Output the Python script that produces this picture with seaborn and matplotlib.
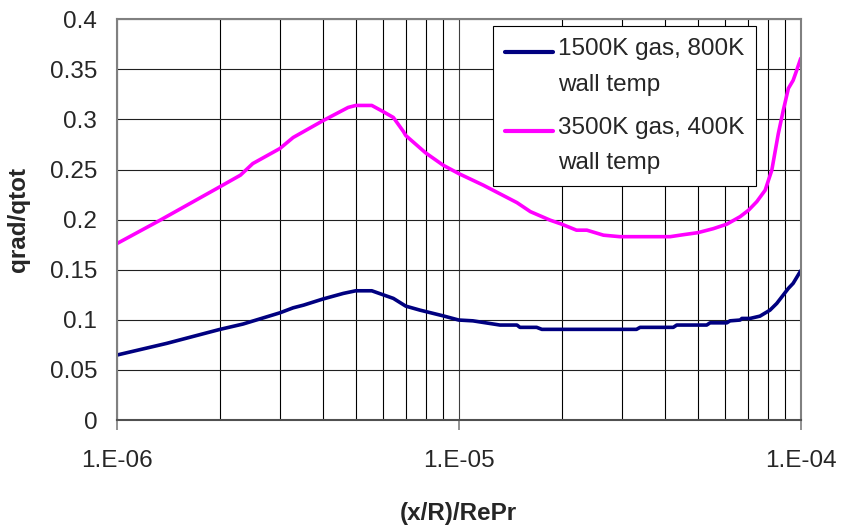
import numpy as np
import pandas as pd
import matplotlib
matplotlib.use("Agg")
import matplotlib.pyplot as plt
from matplotlib.ticker import LogLocator, FixedLocator, NullFormatter
from matplotlib.legend_handler import HandlerLine2D
import seaborn as sns

# ---- data ----
x_hot = [1.0e-6, 1.34e-6, 2.0e-6, 2.3e-6, 2.5e-6, 3.0e-6, 3.28e-6, 4.0e-6, 4.75e-6, 5.0e-6,
         5.57e-6, 6.0e-6, 6.44e-6, 6.89e-6, 7.0e-6, 8.0e-6, 9.0e-6, 1.0e-5, 1.18e-5, 1.48e-5,
         1.62e-5, 1.85e-5, 2.0e-5, 2.21e-5, 2.37e-5, 2.65e-5, 2.96e-5, 4.15e-5, 4.54e-5, 5.0e-5,
         5.55e-5, 6.08e-5, 6.65e-5, 7.04e-5, 7.44e-5, 7.87e-5, 8.23e-5, 8.6e-5, 8.89e-5, 9.2e-5,
         9.5e-5, 9.73e-5, 1.0e-4]
y_hot = [0.176, 0.1995, 0.2327, 0.2444, 0.256, 0.271, 0.282, 0.2986, 0.312, 0.314,
         0.314, 0.308, 0.302, 0.288, 0.284, 0.2667, 0.2544, 0.246, 0.2344, 0.217,
         0.208, 0.1995, 0.1955, 0.1895, 0.1895, 0.1845, 0.183, 0.183, 0.185, 0.187,
         0.191, 0.1955, 0.203, 0.2095, 0.218, 0.2294, 0.2494, 0.286, 0.309, 0.331,
         0.339, 0.349, 0.361]

x_cool = [1.0e-6, 1.4e-6, 2.0e-6, 2.34e-6, 3.0e-6, 3.28e-6, 3.52e-6, 4.0e-6, 4.6e-6, 5.0e-6,
          5.57e-6, 6.44e-6, 7.0e-6, 7.7e-6, 9.0e-6, 1.0e-5, 1.1e-5, 1.32e-5, 1.48e-5, 1.51e-5,
          1.69e-5, 1.75e-5, 3.31e-5, 3.39e-5, 4.24e-5, 4.34e-5, 5.31e-5, 5.43e-5, 6.08e-5, 6.21e-5,
          6.65e-5, 6.73e-5, 7.11e-5, 7.6e-5, 8.13e-5, 8.51e-5, 9.2e-5, 9.5e-5, 1.0e-4]
y_cool = [0.0648, 0.0765, 0.0904, 0.0958, 0.107, 0.112, 0.1147, 0.1207, 0.1264, 0.129,
          0.129, 0.1214, 0.1137, 0.1097, 0.104, 0.0998, 0.099, 0.0948, 0.0948, 0.0925,
          0.0925, 0.0905, 0.0905, 0.0925, 0.0925, 0.0948, 0.0948, 0.097, 0.097, 0.099,
          0.0998, 0.1014, 0.1014, 0.1037, 0.1097, 0.1164, 0.1314, 0.1364, 0.149]

series_names = ["1500K gas, 800K\nwall temp", "3500K gas, 400K\nwall temp"]
series_colors = ["#000080", "#FF00FF"]
y_ticks = [0, 0.05, 0.1, 0.15, 0.2, 0.25, 0.3, 0.35, 0.4]
y_tick_labels = ["0", "0.05", "0.1", "0.15", "0.2", "0.25", "0.3", "0.35", "0.4"]
x_ticks = [1e-6, 1e-5, 1e-4]
x_tick_labels = ["1.E-06", "1.E-05", "1.E-04"]

df = pd.concat([
    pd.DataFrame({"x": x_cool, "y": y_cool, "series": series_names[0]}),
    pd.DataFrame({"x": x_hot, "y": y_hot, "series": series_names[1]}),
], ignore_index=True)

sns.set_style("white")
plt.rcParams["font.family"] = ["Liberation Sans", "DejaVu Sans"]

FS = 17.5

fig = plt.figure(figsize=(8.42, 5.27), dpi=100)
ax = fig.add_axes([0.1386, 0.203, 0.8124, 0.7604])

sns.lineplot(data=df, x="x", y="y", hue="series", hue_order=series_names,
             palette=series_colors, linewidth=2.6, ax=ax, sort=False,
             estimator=None, legend=True)

ax.set_xscale("log")
ax.set_xlim(1e-6, 1e-4)
ax.set_ylim(0, 0.4)

ax.xaxis.set_major_locator(FixedLocator(x_ticks))
ax.set_xticklabels(x_tick_labels)
ax.xaxis.set_minor_locator(LogLocator(base=10, subs=np.arange(2, 10)))
ax.xaxis.set_minor_formatter(NullFormatter())
ax.set_yticks(y_ticks)
ax.set_yticklabels(y_tick_labels)

ax.grid(True, which="major", axis="y", color="#202020", linewidth=0.8)
ax.grid(True, which="major", axis="x", color="#404040", linewidth=0.8)
ax.grid(True, which="minor", axis="x", color="black", linewidth=0.8)
ax.set_axisbelow(True)

for s in ax.spines.values():
    s.set_color("#808080")
    s.set_linewidth(1.5)
ax.spines["bottom"].set_color("#505050")

ax.tick_params(axis="x", which="major", direction="out", length=7, width=1.2,
               color="#808080", labelsize=FS, pad=14.5, bottom=True)
ax.tick_params(axis="x", which="minor", length=0)
ax.tick_params(axis="y", which="major", direction="out", length=0,
               labelsize=FS, pad=14, left=True)

ax.set_xlabel("(x/R)/RePr", fontsize=FS, fontweight="bold", labelpad=22)
ax.set_ylabel("qrad/qtot", fontsize=FS, fontweight="bold", labelpad=14)


class RaisedLine(HandlerLine2D):
    def create_artists(self, legend, orig_handle, xdescent, ydescent, width,
                       height, fontsize, trans):
        arts = super().create_artists(legend, orig_handle, xdescent, ydescent,
                                      width, height, fontsize, trans)
        for a in arts:
            a.set_ydata(np.asarray(a.get_ydata()) + 0.6 * fontsize)
        return arts


handles, labels = ax.get_legend_handles_labels()
leg = ax.legend(handles, labels, loc="upper left", bbox_to_anchor=(0.5506, 0.983),
                fontsize=FS, frameon=True, fancybox=False, edgecolor="black",
                framealpha=1, handlelength=1.95, handletextpad=0.2, borderpad=0.5,
                labelspacing=0.85, borderaxespad=0,
                handler_map={h: RaisedLine() for h in handles})
leg.get_frame().set_linewidth(0.8)
for t in leg.get_texts():
    t.set_linespacing(1.8)
for line in leg.get_lines():
    line.set_linewidth(3)

fig.savefig("out.png", dpi=100)
